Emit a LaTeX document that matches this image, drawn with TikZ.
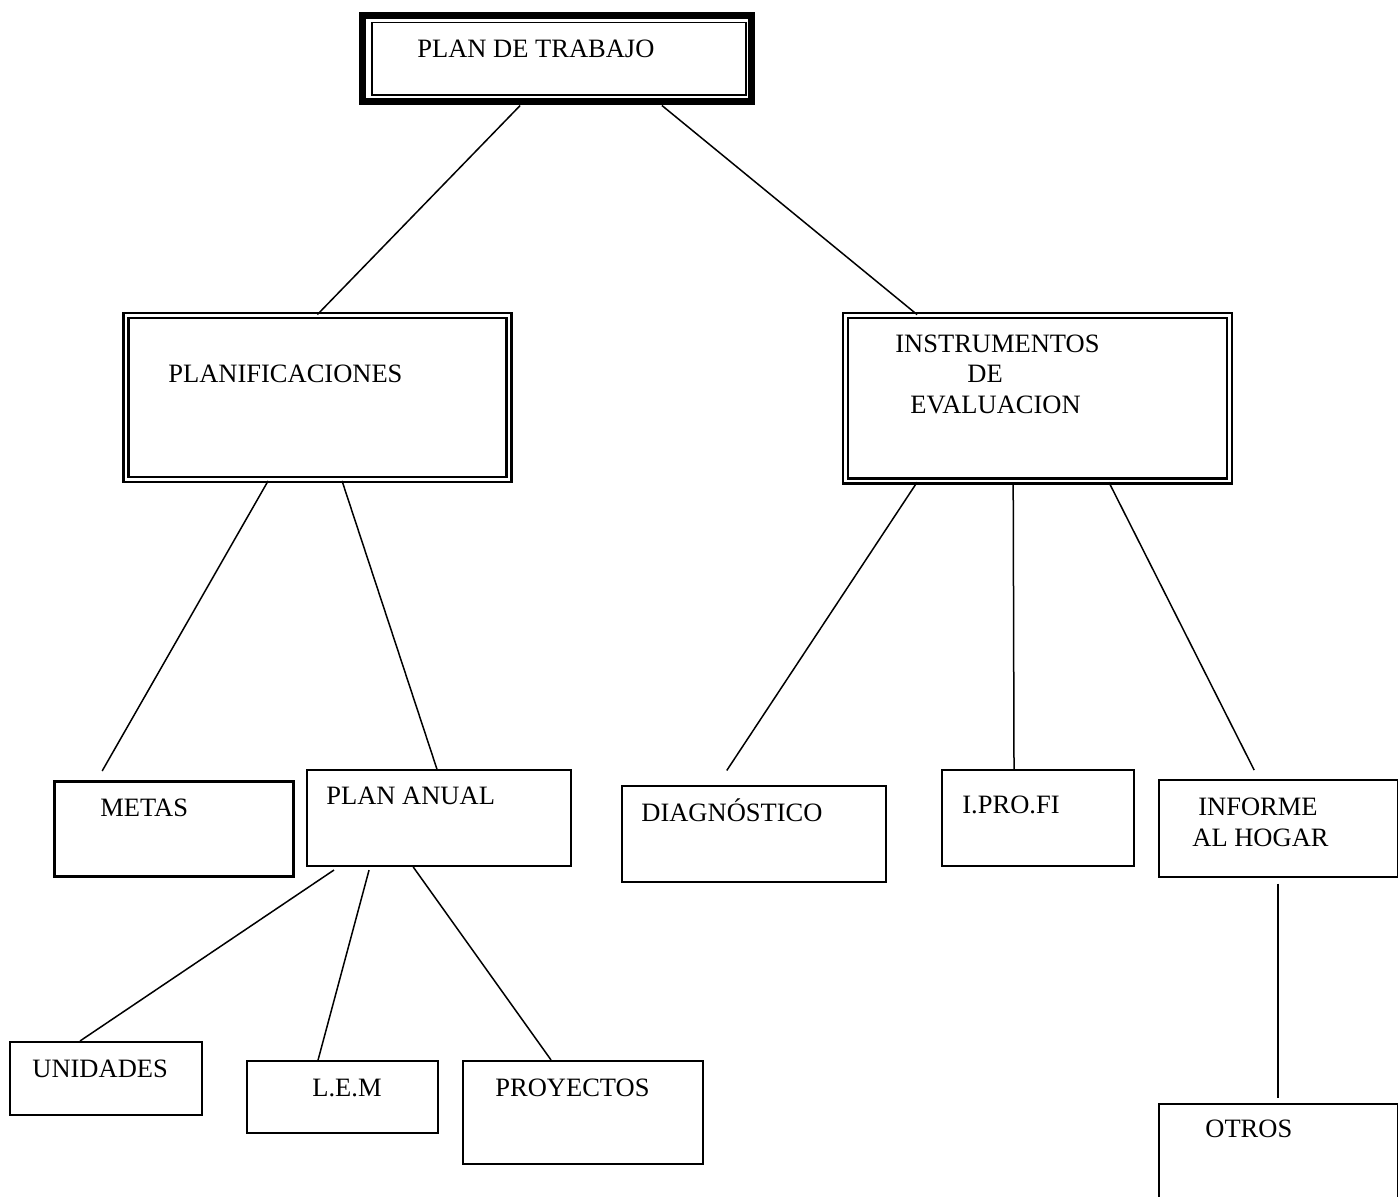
\documentclass[tikz,border=0pt]{standalone}
\usepackage{fontspec}
\setmainfont{Liberation Serif}
\usetikzlibrary{calc}

\tikzset{
  txt/.style={anchor=base west, inner sep=0pt, font=\fontsize{13.25pt}{16pt}\selectfont},
  plainbox/.style={draw, line width=1pt, anchor=north west, inner sep=0pt},
  dblbox/.style={draw, line width=1.2pt, double, double distance=1.3pt, inner sep=0pt},
  link/.style={line width=0.75pt}
}

\begin{document}
\begin{tikzpicture}[x=0.5pt, y=-0.5pt]
  \clip (0,0) rectangle (1398,1197);

  % top box, thick frame with a thin one inside
  \node[draw, line width=3.5pt, minimum width=194.5pt, minimum height=43.25pt] (trabajo) at (557,58.75) {};
  \node[draw, line width=0.75pt, minimum width=187pt, minimum height=36.25pt] (trabajo-in) at (559,58.75) {};
  \node[txt] (trabajo-t) at (417,58) {PLAN DE TRABAJO};

  % second level
  \node[dblbox, minimum width=191.4pt, minimum height=82pt] (plan) at (317.4,397.75) {};
  \node[txt] (plan-t) at (168,383) {PLANIFICACIONES};

  \node[dblbox, minimum width=191.75pt, minimum height=82.6pt] (instr) at (1037.5,398.4) {};
  \node[txt] (instr-t1) at (895,353) {INSTRUMENTOS};
  \node[txt] (instr-t2) at (967,383) {DE};
  \node[txt] (instr-t3) at (910,414) {EVALUACION};

  % third level
  \node[plainbox, line width=1.4pt, minimum width=119.5pt, minimum height=47.5pt] (metas) at (53,780) {};
  \node[txt] (metas-t) at (100,816) {METAS};

  \node[plainbox, minimum width=132pt, minimum height=48pt] (anual) at (305.5,769) {};
  \node[txt] (anual-t) at (326,805) {PLAN ANUAL};

  \node[plainbox, minimum width=132.25pt, minimum height=48.25pt] (diag) at (620.5,784.5) {};
  \node[txt] (diag-t) at (641,821) {DIAGNÓSTICO};

  \node[plainbox, minimum width=96.25pt, minimum height=48pt] (iprofi) at (940.5,769) {};
  \node[txt] (iprofi-t) at (962,813) {I.PRO.FI};

  \node[plainbox, minimum width=119.75pt, minimum height=48.25pt] (informe) at (1157.5,779) {};
  \node[txt] (informe-t1) at (1198,815) {INFORME};
  \node[txt] (informe-t2) at (1192,846) {AL HOGAR};

  % bottom level
  \node[plainbox, minimum width=96pt, minimum height=36.5pt] (unidades) at (9,1041) {};
  \node[txt] (unidades-t) at (32,1077) {UNIDADES};

  \node[plainbox, minimum width=95.75pt, minimum height=36pt] (lem) at (245.5,1060) {};
  \node[txt] (lem-t) at (312,1096) {L.E.M};

  \node[plainbox, minimum width=120pt, minimum height=51.5pt] (proy) at (461.5,1060) {};
  \node[txt] (proy-t) at (495,1096) {PROYECTOS};

  \node[plainbox, minimum width=119.75pt, minimum height=55pt] (otros) at (1157.5,1102.5) {};
  \node[txt] (otros-t) at (1205,1137) {OTROS};

  % connectors
  \draw[link] ($(trabajo.south west)!.407!(trabajo.south east)$) -- ($(plan.north west)!.5!(plan.north east)$);
  \draw[link] ($(trabajo.south west)!.765!(trabajo.south east)$) -- ($(instr.north west)!.188!(instr.north east)$);

  \draw[link, shorten >=5.2pt] ($(plan.south west)!.372!(plan.south east)$) -- ($(metas.north west)!.182!(metas.north east)$);
  \draw[link] ($(plan.south west)!.564!(plan.south east)$) -- ($(anual.north west)!.494!(anual.north east)$);

  \draw[link, shorten >=8.4pt] ($(instr.south west)!.188!(instr.south east)$) -- ($(diag.north west)!.364!(diag.north east)$);
  \draw[link] ($(instr.south west)!.437!(instr.south east)$) -- ($(iprofi.north west)!.378!(iprofi.north east)$);
  \draw[link, shorten >=5pt] ($(instr.south west)!.685!(instr.south east)$) -- ($(informe.north west)!.419!(informe.north east)$);

  \draw[link, shorten <=2.7pt] ($(anual.south west)!.124!(anual.south east)$) -- ($(unidades.north west)!.366!(unidades.north east)$);
  \draw[link, shorten <=1.6pt] ($(anual.south west)!.242!(anual.south east)$) -- ($(lem.north west)!.375!(lem.north east)$);
  \draw[link] ($(anual.south west)!.405!(anual.south east)$) -- ($(proy.north west)!.37!(proy.north east)$);

  \draw[link, shorten <=3pt, shorten >=2.2pt] ($(informe.south west)!.499!(informe.south east)$) -- ($(otros.north west)!.499!(otros.north east)$);
\end{tikzpicture}
\end{document}
